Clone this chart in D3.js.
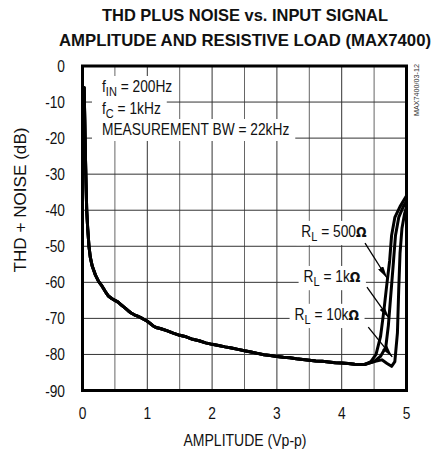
<!DOCTYPE html>
<html><head><meta charset="utf-8">
<script src="https://cdn.jsdelivr.net/npm/d3@7/dist/d3.min.js"></script>
<style>
html,body{margin:0;padding:0;background:#fff;}
svg{display:block;}
text{font-family:"Liberation Sans Narrow","Arial Narrow","Liberation Sans",Arial,sans-serif;fill:#111;}
</style></head>
<body>
<script>
// ---------------- data ----------------
const titleLines = ["THD PLUS NOISE vs. INPUT SIGNAL", "AMPLITUDE AND RESISTIVE LOAD (MAX7400)"];
const xTicks = [0, 1, 2, 3, 4, 5];
const yTicks = [0, -10, -20, -30, -40, -50, -60, -70, -80, -90];
const xGrid = [0.5, 1, 1.5, 2, 2.5, 3, 3.5, 4, 4.5];
const yGrid = [-10, -20, -30, -40, -50, -60, -70, -80];
const xLabel = "AMPLITUDE (Vp-p)";
const yLabel = "THD + NOISE (dB)";
const figId = "MAX7400/03-12";
const loadNames = ["500Ω", "1kΩ", "10kΩ"];

// common part (all loads overlap)
const commonAmp = [0.025,0.035,0.045,0.055,0.065,0.08,0.1,0.12,0.15,0.2,0.25,0.3,0.35,0.4,0.45,0.5,0.55,0.6,0.65,0.7,0.75,0.8,0.85,0.9,0.95,1.0,1.05,1.1,1.15,1.2,1.3,1.4,1.5,1.6,1.7,1.8,1.9,2.0,2.1,2.2,2.3,2.4,2.5,2.6,2.7,2.8,2.9,3.0,3.1,3.2,3.3,3.4,3.5,3.6,3.7,3.8,3.9,4.0,4.1,4.2,4.3,4.35];
const commonThd = [-6,-15,-25,-33,-40,-45,-50,-53,-55.5,-58,-59.8,-61,-62.5,-63.8,-64.5,-65,-65.5,-66.3,-67,-67.8,-68.5,-69,-69.4,-69.8,-70.3,-70.8,-71.5,-72.2,-72.6,-72.8,-73.4,-74.1,-74.7,-75.1,-75.8,-76.2,-76.8,-77.2,-77.5,-77.9,-78.2,-78.6,-79,-79.3,-79.7,-80.1,-80.3,-80.6,-80.8,-80.9,-81.2,-81.4,-81.6,-81.8,-81.9,-82.1,-82.3,-82.4,-82.5,-82.7,-82.8,-82.8];
// tails per load
const tail500Amp = [4.45,4.53,4.6,4.65,4.7,4.74,4.77,4.82,4.9,5.0];
const tail500Thd = [-82,-80,-75,-68,-60,-54,-47,-42,-39,-36];
const tail1kAmp = [4.5,4.6,4.68,4.72,4.76,4.8,4.83,4.88,4.95,5.0];
const tail1kThd = [-82,-80.5,-78,-72,-63,-54,-47,-42,-39,-37.5];
const tail10kAmp = [4.5,4.62,4.7,4.77,4.82,4.86,4.88,4.9,4.93,4.97,5.0];
const tail10kThd = [-82,-81.5,-82.5,-83.3,-82,-74,-62,-52,-45,-41,-39];

// label anchors (data coords) and arrow ends
const labelAmp = [3.88, 3.85, 3.77];
const labelThd = [-47.4, -59.9, -70.4];
const arrowFromAmp = [4.36, 4.39, 4.41];
const arrowFromThd = [-49.1, -61.3, -72.4];
const arrowToAmp = [4.70, 4.73, 4.78];
const arrowToThd = [-58.8, -69.9, -80.7];

// ---------------- drawing ----------------
const W = 437, H = 471;
const SX = 0.86; // horizontal condensing of the narrow typeface
const svg = d3.select("body").append("svg").attr("width", W).attr("height", H);
const x = d3.scaleLinear().domain([0, 5]).range([82.5, 406.5]);
const y = d3.scaleLinear().domain([-90, 0]).range([390.5, 66]);

function place(parent, px, py, sx){
  return parent.append("g").attr("transform", `translate(${px},${py}) scale(${sx},1)`);
}

// title
const titleW = [286, 372];
titleLines.forEach((t,i)=>{
  svg.append("text").attr("x", 245).attr("y", 21 + i*24.5)
    .attr("text-anchor","middle").style("font-weight","bold").style("font-size","16.5px")
    .attr("textLength", titleW[i]).attr("lengthAdjust","spacingAndGlyphs").text(t);
});

// grid
const g = svg.append("g");
g.selectAll("line.vg").data(xGrid).enter().append("line")
  .attr("x1", d=>x(d)).attr("x2", d=>x(d)).attr("y1", y(0)).attr("y2", y(-90))
  .attr("stroke", d=> Number.isInteger(d) ? "#333" : "#666").attr("stroke-width", 1);
g.selectAll("line.hg").data(yGrid).enter().append("line")
  .attr("y1", d=>y(d)).attr("y2", d=>y(d)).attr("x1", x(0)).attr("x2", x(5))
  .attr("stroke", "#333").attr("stroke-width", 1);

function richText(sel, parts, size){
  parts.forEach(p=>{
    const ts = sel.append("tspan").text(p.t);
    if(p.sub){ ts.attr("dy", 4).style("font-size", (size*0.8)+"px"); }
    else if(p.after){ ts.attr("dy", -4); }
    if(p.omega){ ts.style("font-family","'DejaVu Sans',sans-serif").style("font-weight","bold").style("font-size",(size*0.9)+"px"); }
  });
}
// annotation text block with white backgrounds
const notes = [
  [{t:"f"},{t:"IN",sub:true},{t:" = 200Hz",after:true}],
  [{t:"f"},{t:"C",sub:true},{t:" = 1kHz",after:true}],
  [{t:"MEASUREMENT BW = 22kHz"}]
];
const noteG = svg.append("g");
notes.forEach((parts,i)=>{
  const by = 92 + i*21.5;
  const rect = noteG.append("rect");
  const gg = place(noteG, 102, by, SX);
  const t = gg.append("text").attr("x", 0).attr("y", 0).style("font-size","16px");
  richText(t, parts, 16);
  const bb = t.node().getBBox();
  rect.attr("x", 92).attr("y", by - 16).attr("width", 10 + bb.width*SX + 6).attr("height", 22).attr("fill","#fff");
});

// curves
const series = [
  {amp: commonAmp.concat(tail500Amp), thd: commonThd.concat(tail500Thd)},
  {amp: commonAmp.concat(tail1kAmp), thd: commonThd.concat(tail1kThd)},
  {amp: commonAmp.concat(tail10kAmp), thd: commonThd.concat(tail10kThd)}
];
const line = d3.line().x(d=>x(d[0])).y(d=>y(d[1])).curve(d3.curveLinear);
svg.append("g").selectAll("path").data(series).enter().append("path")
  .attr("d", s=> line(s.amp.map((a,i)=>[a, s.thd[i]])))
  .attr("fill","none").attr("stroke","#000").attr("stroke-width", 3)
  .attr("stroke-linejoin","round").attr("stroke-linecap","round");

// load labels
const labG = svg.append("g");
loadNames.forEach((nm,i)=>{
  const rect = labG.append("rect");
  const gg = place(labG, x(labelAmp[i]), y(labelThd[i]), SX);
  const t = gg.append("text").attr("x", 0).attr("y", 0).attr("text-anchor","middle").style("font-size","16px");
  richText(t, [{t:"R"},{t:"L",sub:true},{t:" = " + nm.replace("Ω",""),after:true},{t:"Ω",omega:true}], 16);
  const bb = t.node().getBBox();
  rect.attr("x", x(labelAmp[i]) + bb.x*SX - 5).attr("y", y(labelThd[i]) + bb.y - 1)
    .attr("width", bb.width*SX + 10).attr("height", bb.height + 2).attr("fill","#fff");
});
// arrows
const defs = svg.append("defs");
defs.append("marker").attr("id","ah").attr("viewBox","0 0 12 6").attr("refX",12).attr("refY",3)
  .attr("markerWidth",12).attr("markerHeight",6).attr("markerUnits","userSpaceOnUse").attr("orient","auto")
  .append("path").attr("d","M0,0 L12,3 L0,6 Z").attr("fill","#000");
loadNames.forEach((nm,i)=>{
  svg.append("line").attr("x1", x(arrowFromAmp[i])).attr("y1", y(arrowFromThd[i]))
    .attr("x2", x(arrowToAmp[i])).attr("y2", y(arrowToThd[i]))
    .attr("stroke","#000").attr("stroke-width",1.3).attr("marker-end","url(#ah)");
});

// frame
svg.append("rect").attr("x", x(0)).attr("y", y(0)).attr("width", x(5)-x(0)).attr("height", y(-90)-y(0))
  .attr("fill","none").attr("stroke","#000").attr("stroke-width", 3);

// tick labels
xTicks.forEach(d=>{
  place(svg, x(d), 419, SX).append("text").attr("text-anchor","middle").style("font-size","16px").text(d);
});
yTicks.forEach(d=>{
  place(svg, 65, y(d)+6, SX).append("text").attr("text-anchor","end").style("font-size","16px").text(d);
});

// axis titles
svg.append("text").attr("x", 245).attr("y", 446).attr("text-anchor","middle").style("font-size","16px")
  .attr("textLength", 123).attr("lengthAdjust","spacingAndGlyphs").text(xLabel);
svg.append("text").attr("transform","translate(26,200) rotate(-90)").attr("text-anchor","middle")
  .style("font-size","16px").attr("textLength", 145).attr("lengthAdjust","spacingAndGlyphs").text(yLabel);

// figure id
svg.append("text").attr("transform","translate(419,90) rotate(-90)").attr("text-anchor","middle")
  .style("font-size","8px").style("fill","#333").attr("textLength", 52).attr("lengthAdjust","spacingAndGlyphs").text(figId);
</script>
</body></html>
